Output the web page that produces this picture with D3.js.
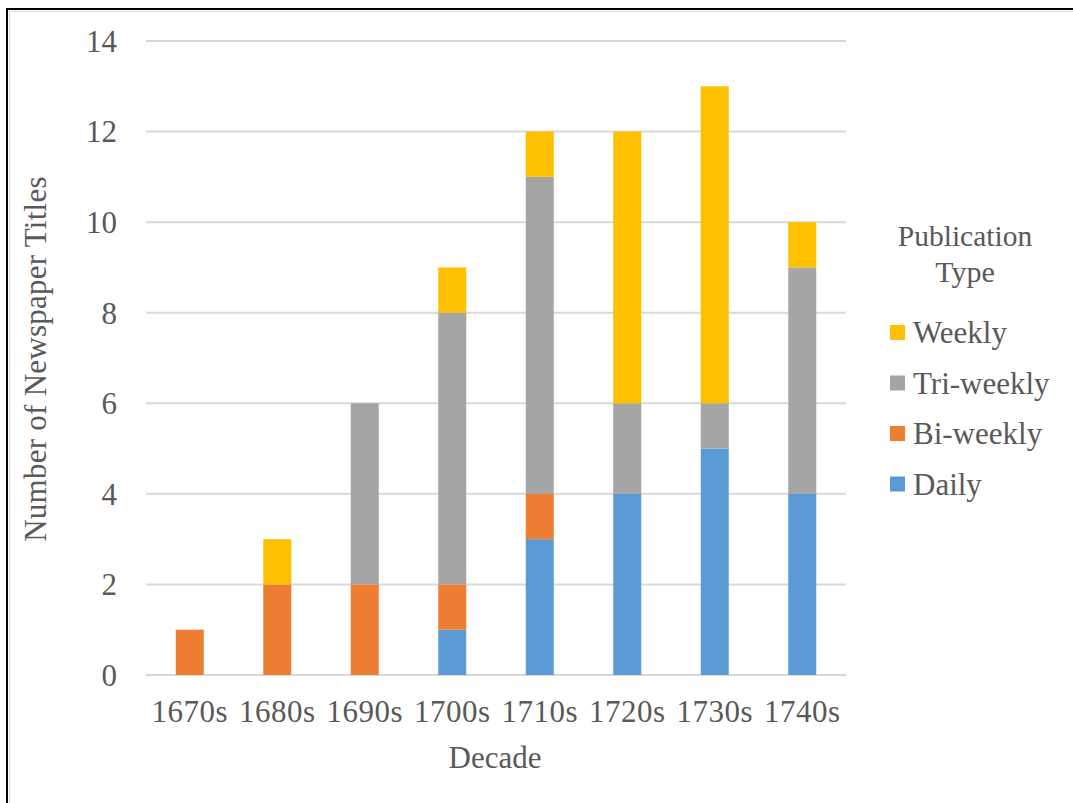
<!DOCTYPE html>
<html><head><meta charset="utf-8">
<script src="https://cdn.jsdelivr.net/npm/d3@7"></script>
<style>html,body{margin:0;padding:0;background:#fff}svg{display:block}text{font-family:"Liberation Serif","Times New Roman",serif;fill:#595959}</style>
</head><body><svg id="c" width="1073" height="803"></svg>
<script>
const decades = ["1670s","1680s","1690s","1700s","1710s","1720s","1730s","1740s"];
const seriesNames = ["Daily","Bi-weekly","Tri-weekly","Weekly"];
const daily     = [0,0,0,1,3,4,5,4];
const biweekly  = [1,2,2,1,1,0,0,0];
const triweekly = [0,0,4,6,7,2,1,5];
const weekly    = [0,1,0,1,1,6,7,1];
const yTicks = [0,2,4,6,8,10,12,14];
const colors = ["#5b9bd5","#ed7d31","#a5a5a5","#ffc000"];

const svg = d3.select("#c");
// frame
svg.append("rect").attr("x",7).attr("y",9).attr("width",1100).attr("height",820)
  .attr("fill","none").attr("stroke","#000").attr("stroke-width",2);
svg.append("rect").attr("x",9.5).attr("y",11.5).attr("width",1100).attr("height",820)
  .attr("fill","none").attr("stroke","#d9d9d9").attr("stroke-width",1);

const rows = decades.map((d,i)=>({decade:d,"Daily":daily[i],"Bi-weekly":biweekly[i],"Tri-weekly":triweekly[i],"Weekly":weekly[i]}));
const stack = d3.stack().keys(seriesNames)(rows);

const x = d3.scaleBand().domain(decades).range([146,846]).paddingInner(0.68).paddingOuter(0.34);
const y = d3.scaleLinear().domain([0,14]).range([675,41]);

// gridlines
svg.append("g").selectAll("line").data(yTicks).join("line")
  .attr("x1",146).attr("x2",846).attr("y1",d=>y(d)).attr("y2",d=>y(d))
  .attr("stroke","#d9d9d9").attr("stroke-width",2);

// y tick labels
svg.append("g").selectAll("text").data(yTicks).join("text")
  .attr("x",117).attr("y",d=>y(d)).attr("dy","0.35em").attr("text-anchor","end")
  .attr("font-size",31).text(d=>d);

// bars
svg.append("g").selectAll("g").data(stack).join("g")
  .attr("fill",(d,i)=>colors[i])
  .selectAll("rect").data(d=>d.filter(p=>p[1]>p[0])).join("rect")
  .attr("x",d=>x(d.data.decade)).attr("width",x.bandwidth())
  .attr("y",d=>y(d[1])).attr("height",d=>y(d[0])-y(d[1]));

// x labels
svg.append("g").selectAll("text").data(decades).join("text")
  .attr("x",d=>x(d)+x.bandwidth()/2).attr("y",722).attr("text-anchor","middle")
  .attr("font-size",31).attr("letter-spacing","0.5px").text(d=>d);

// axis titles
svg.append("text").attr("x",495).attr("y",768).attr("text-anchor","middle").attr("font-size",31).text("Decade");
svg.append("text").attr("transform","translate(46,359) rotate(-90)").attr("text-anchor","middle")
  .attr("font-size",31).attr("letter-spacing","0.25px").text("Number of Newspaper Titles");

// legend
const lg = svg.append("g");
lg.append("text").attr("x",965).attr("y",246).attr("text-anchor","middle").attr("font-size",29.5).text("Publication");
lg.append("text").attr("x",965).attr("y",282).attr("text-anchor","middle").attr("font-size",30).text("Type");
const legendOrder = seriesNames.map((n,i)=>({n,c:colors[i]})).reverse();
const li = lg.selectAll("g.item").data(legendOrder).join("g").attr("class","item")
  .attr("transform",(d,i)=>`translate(890,${325+i*50.5})`);
li.append("rect").attr("width",15).attr("height",15).attr("fill",d=>d.c);
li.append("text").attr("x",23).attr("y",7.5).attr("dy","0.35em").attr("font-size",31).text(d=>d.n);
</script></body></html>
